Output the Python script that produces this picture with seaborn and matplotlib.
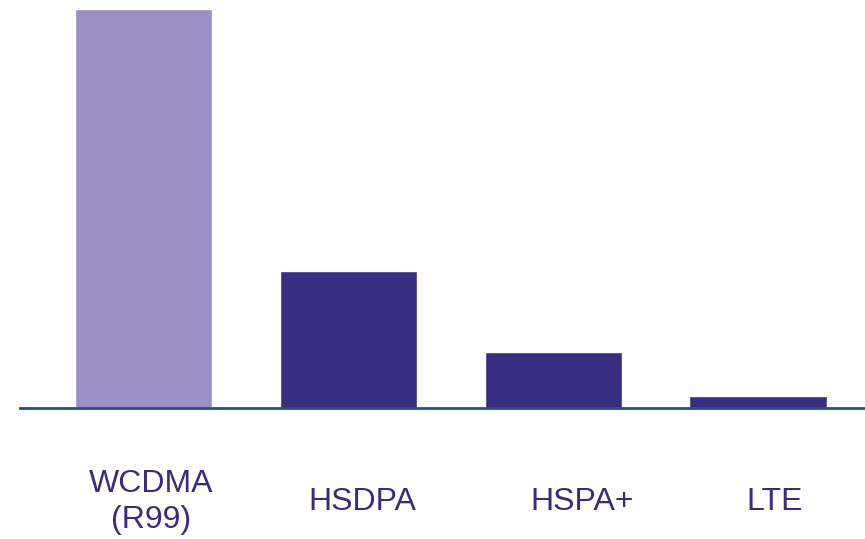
import numpy as np
import pandas as pd
import seaborn as sns
import matplotlib.pyplot as plt

# Relative spectral efficiency / cost per technology
technologies = ["WCDMA\n(R99)", "HSDPA", "HSPA+", "LTE"]
relative_values = [100, 34.3, 14.0, 3.0]
bar_colors = ["#9c8fc4", "#382d80", "#382d80", "#382d80"]

df = pd.DataFrame({"Technology": technologies, "Value": relative_values})

sns.set_theme(style="white")
plt.rcParams["font.family"] = ["Liberation Sans", "DejaVu Sans"]

fig = plt.figure(figsize=(8.65, 5.39), dpi=100)
ax = fig.add_axes([20 / 865, 131 / 539, 845 / 865, 399 / 539])

sns.barplot(data=df, x="Technology", y="Value", hue="Technology",
            palette=bar_colors, width=0.67, saturation=1, legend=False, ax=ax)

ax.set_xlim(-0.603, 3.522)
ax.set_ylim(0, 100)
for side in ["top", "right", "left"]:
    ax.spines[side].set_visible(False)
ax.spines["bottom"].set_color("#1a519c")
ax.spines["bottom"].set_linewidth(2)
ax.set_xticks([])
ax.set_yticks([])
ax.set_xlabel("")
ax.set_ylabel("")

# category labels below the baseline (pixel centres)
label_x = [151, 362, 582, 775]
label_y = [502, 502, 502, 502]
for name, lx, ly in zip(technologies, label_x, label_y):
    fig.text(lx / 865, 1 - ly / 539, name, ha="center", va="center",
             fontsize=23, color="#372c80", linespacing=1.25)

fig.savefig("out.png", dpi=100)
